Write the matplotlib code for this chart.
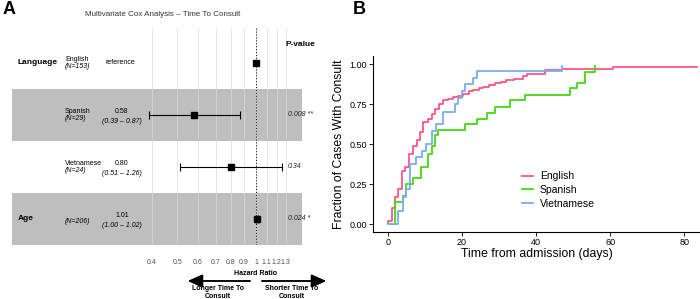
import matplotlib
matplotlib.use("Agg")
import matplotlib.pyplot as plt
import matplotlib.transforms as mtransforms
import numpy as np

plt.rcParams["font.family"] = ["Liberation Sans", "DejaVu Sans"]

# ── Panel A data: multivariate Cox model ─────────────────────────────────────
row_groups = ["Language", "", "", "Age"]
row_levels = ["English", "Spanish", "Vietnamese", ""]
row_n = ["(N=153)", "(N=29)", "(N=24)", "(N=206)"]
hr = [1.00, 0.58, 0.80, 1.01]
ci_low = [np.nan, 0.39, 0.51, 1.00]
ci_high = [np.nan, 0.87, 1.26, 1.02]
hr_text = ["reference", "0.58", "0.80", "1.01"]
ci_text = ["", "(0.39 – 0.87)", "(0.51 – 1.26)", "(1.00 – 1.02)"]
p_text = ["", "0.008 **", "0.34", "0.024 *"]
hr_ticks = [0.4, 0.5, 0.6, 0.7, 0.8, 0.9, 1, 1.1, 1.2, 1.3]

# ── Panel B data: cumulative fraction with consult ───────────────────────────
eng_t = [0, 0, 1.0, 1.9, 2.8, 3.7, 4.6, 5.7, 6.8, 7.8, 8.7, 9.6, 10.9, 11.9,
         12.8, 13.9, 15.0, 16.3, 17.5, 19.0, 20.4, 21.8, 23.1, 24.5, 25.8,
         27.4, 28.9, 30.5, 32.0, 33.9, 36.5, 37.5, 42.4, 46.9, 60.8, 83.3]
eng_f = [0, 0.02, 0.098, 0.17, 0.22, 0.33, 0.36, 0.44, 0.49, 0.525, 0.577,
         0.64, 0.66, 0.69, 0.72, 0.754, 0.775, 0.785, 0.795, 0.80, 0.817, 0.83,
         0.84, 0.85, 0.86, 0.87, 0.88, 0.89, 0.90, 0.91, 0.925, 0.9375, 0.9625,
         0.973, 0.983, 0.983]
spa_t = [0, 2.0, 4.0, 4.9, 6.9, 9.0, 10.9, 11.9, 12.7, 13.6, 20.8, 24.0, 26.7,
         28.9, 32.9, 37.0, 49.1, 50.9, 53.2, 56.0, 56.0]
spa_f = [0, 0.14, 0.175, 0.25, 0.285, 0.36, 0.44, 0.49, 0.556, 0.587, 0.625,
         0.66, 0.695, 0.735, 0.775, 0.806, 0.85, 0.883, 0.95, 0.95, 0.99]
vie_t = [0, 2.8, 4.1, 5.0, 5.9, 7.7, 9.1, 10.4, 11.8, 13.0, 15.0, 18.1, 19.0,
         19.9, 20.8, 23.1, 24.0, 46.9, 46.9]
vie_f = [0, 0.083, 0.167, 0.22, 0.375, 0.42, 0.46, 0.50, 0.58, 0.625, 0.70,
         0.75, 0.79, 0.83, 0.875, 0.917, 0.958, 0.958, 0.99]
series_names = ["English", "Spanish", "Vietnamese"]
series_colors = ["#FF5585", "#44D813", "#7AADF0"]

W, H = 700, 299
fig = plt.figure(figsize=(W / 100, H / 100), dpi=100)


def fx(px):
    return px / W


def fy(py):
    return 1 - py / H


# ── Panel A ──────────────────────────────────────────────────────────────────
axA = fig.add_axes([fx(12), fy(245), fx(290), 217 / H])
axA.set_xscale("log")
axA.set_xlim(0.1165, 1.50)
axA.set_ylim(3.5, -0.673)
for s in axA.spines.values():
    s.set_visible(False)
axA.set_yticks([])
axA.set_xticks(hr_ticks)
axA.set_xticks([], minor=True)
axA.set_xticklabels([f"{t:g}" for t in hr_ticks], fontsize=5, color="#4D4D4D")
axA.tick_params(axis="x", length=0, pad=10)
axA.set_xlabel("Hazard Ratio", fontsize=5, fontweight="bold")
axA.xaxis.set_label_coords(fx(256 - 12) / fx(290), -0.115)
axA.grid(axis="x", color="#DADADA", lw=0.5)
axA.set_axisbelow("line")

for i in range(len(hr)):
    if i % 2 == 1:
        axA.axhspan(i - 0.5, i + 0.5, color="#BEBEBE", lw=0, zorder=1)

axA.axvline(1, color="black", ls=(0, (1, 2)), lw=0.7, zorder=2)
rows = np.arange(len(hr))
lo = np.array(ci_low)
hi = np.array(ci_high)
has_ci = ~np.isnan(lo)
axA.errorbar(np.array(hr)[has_ci], rows[has_ci],
             xerr=[np.array(hr)[has_ci] - lo[has_ci], hi[has_ci] - np.array(hr)[has_ci]],
             fmt="none", ecolor="black", elinewidth=0.8, capsize=3, capthick=0.8,
             zorder=3)
axA.plot(hr, rows, "s", color="black", ms=5, zorder=4)

tr = mtransforms.blended_transform_factory(fig.transFigure, axA.transData)
for i in range(len(hr)):
    if row_groups[i]:
        fig.text(fx(18), i, row_groups[i], transform=tr, fontsize=6,
                 fontweight="bold", va="center", ha="left")
    if row_levels[i]:
        fig.text(fx(65), i - 0.07, row_levels[i], transform=tr, fontsize=5,
                 va="center", ha="left")
        fig.text(fx(65), i + 0.07, row_n[i], transform=tr, fontsize=5,
                 style="italic", va="center", ha="left")
    else:
        fig.text(fx(65), i + 0.05, row_n[i], transform=tr, fontsize=5,
                 style="italic", va="center", ha="left")
    if ci_text[i]:
        fig.text(fx(122), i - 0.06, hr_text[i], transform=tr, fontsize=5,
                 va="center", ha="center")
        fig.text(fx(122), i + 0.13, ci_text[i], transform=tr, fontsize=5,
                 style="italic", va="center", ha="center")
    else:
        fig.text(fx(105), i, hr_text[i], transform=tr, fontsize=5,
                 va="center", ha="left")
    if p_text[i]:
        fig.text(fx(288), i, p_text[i], transform=tr, fontsize=5,
                 style="italic", va="center", ha="left", color="#222222")

fig.text(fx(286), fy(45), "P-value", fontsize=6, fontweight="bold",
         va="center", ha="left")
fig.text(fx(163), fy(15), "Multivariate Cox Analysis – Time To Consult",
         fontsize=5.8, ha="center", va="center", color="#333333")
fig.text(fx(3), fy(10), "A", fontsize=13, fontweight="bold", va="center")

arrow_kw = dict(arrowstyle="-|>,head_length=0.9,head_width=0.4",
                color="black", lw=1.1, shrinkA=0, shrinkB=0)
fig.add_artist(plt.annotate("", xy=(fx(188), fy(281)), xytext=(fx(250), fy(281)),
                            xycoords="figure fraction", arrowprops=arrow_kw))
fig.add_artist(plt.annotate("", xy=(fx(326), fy(281)), xytext=(fx(262), fy(281)),
                            xycoords="figure fraction", arrowprops=arrow_kw))
fig.text(fx(218), fy(292.5), "Longer Time To\nConsult", fontsize=5,
         fontweight="bold", ha="center", va="center", linespacing=1.1)
fig.text(fx(292), fy(292.5), "Shorter Time To\nConsult", fontsize=5,
         fontweight="bold", ha="center", va="center", linespacing=1.1)

# ── Panel B ──────────────────────────────────────────────────────────────────
axB = fig.add_axes([fx(373), fy(232), fx(327), 175.7 / H])
for t, f, name, col in zip([eng_t, spa_t, vie_t], [eng_f, spa_f, vie_f],
                           series_names, series_colors):
    axB.step(t, f, where="post", color=col, lw=1.3, label=name)
axB.set_xlim(-4.0, 84.2)
axB.set_ylim(-0.05, 1.05)
axB.set_xticks([0, 20, 40, 60, 80])
axB.set_yticks([0, 0.25, 0.5, 0.75, 1.0])
axB.set_yticklabels(["0.00", "0.25", "0.50", "0.75", "1.00"])
axB.tick_params(labelsize=6.5, length=2.75, width=0.6, pad=1.5)
axB.spines["top"].set_visible(False)
axB.spines["right"].set_visible(False)
for s in ["left", "bottom"]:
    axB.spines[s].set_linewidth(0.8)
axB.set_xlabel("Time from admission (days)", fontsize=8.8, labelpad=1)
axB.set_ylabel("Fraction of Cases With Consult", fontsize=8.8, labelpad=3)
axB.legend(loc="center left", bbox_to_anchor=(fx(522), fy(190)),
           bbox_transform=fig.transFigure, frameon=False, fontsize=7.5,
           handlelength=1.1, handletextpad=0.6, labelspacing=0.35,
           borderpad=0, borderaxespad=0)
fig.text(fx(353), fy(10), "B", fontsize=13, fontweight="bold", va="center")

fig.savefig("out.png", dpi=100)
